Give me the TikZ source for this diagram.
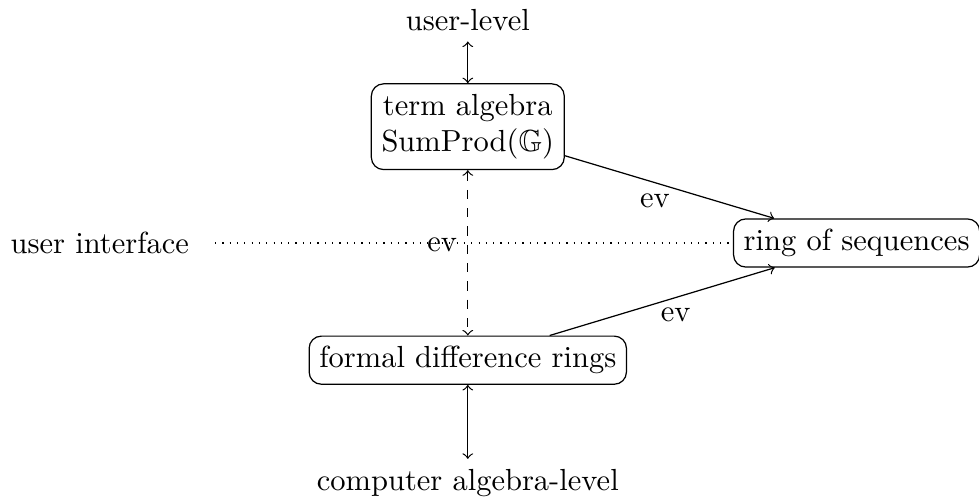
\documentclass[tikz,border=0pt]{standalone}
\usepackage{amssymb}
\usetikzlibrary{positioning}
\tikzset{
    level/.style={draw, rounded corners, align=center}
}
\begin{document}
\begin{tikzpicture}[node distance=2cm]
            \useasboundingbox (0,0) rectangle (11.28,-5.78);
            \node[level] (term) at (5.39,-1.46) {term algebra\\SumProd($\mathbb{G}$)};
            \node[
                node distance=1.23cm,
                above of=term
            ] (user) {user-level};
            \node[
                level,
                node distance=2.69cm,
                below of=term
            ] (formal) {formal difference rings};
            \node[
                node distance=1.42cm,
                below of=formal
            ] (computer) {computer algebra-level};
            \node[level] (ring) at (9.87,-2.80) {ring of sequences};
            \node (ui) at (1.15,-2.80) {user interface};
            \draw[dotted, shorten <=5pt] (ui) -- (ring);
            \draw[<->] (user) -- (term);
            \draw[<->] (formal) -- (computer);
            \draw[<->, dashed] (term) -- node[pos=0.45, left] {ev} (formal);
            \draw[->] (term) -- node[pos=0.43, below] {ev} (ring);
            \draw[->] (formal) -- node[pos=0.56, below] {ev} (ring);
        \end{tikzpicture}
\end{document}
